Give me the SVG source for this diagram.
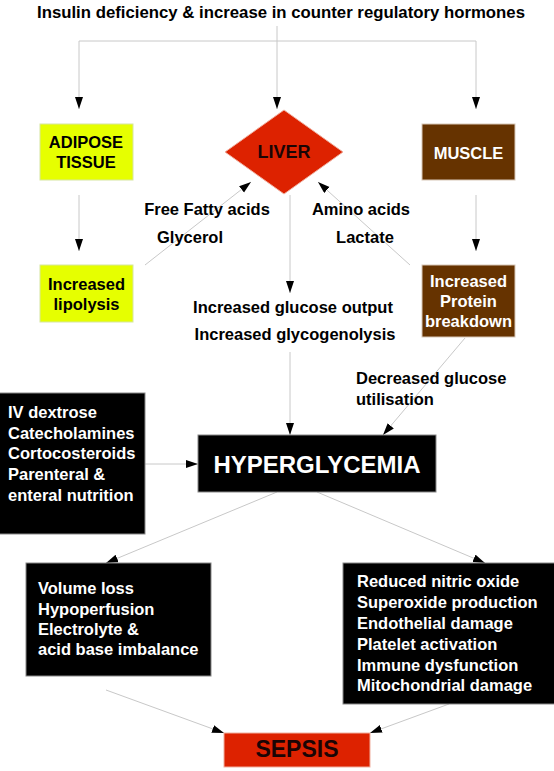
<svg xmlns="http://www.w3.org/2000/svg" width="554" height="771" viewBox="0 0 554 771">
<defs>
<marker id="ah" markerUnits="userSpaceOnUse" markerWidth="13" markerHeight="9" refX="12" refY="4" orient="auto">
<path d="M0,0 L12,4 L0,8 z" fill="#000"/>
</marker>
<style>
text{font-family:"Liberation Sans",Arial,sans-serif;font-weight:bold;font-size:16.5px;fill:#000}
.c{text-anchor:middle}
.w{fill:#fff}
.dk{fill:#1a0505}
.ln{stroke:#c8c8c8;stroke-width:1;fill:none}
.ar{stroke:#c8c8c8;stroke-width:1;fill:none;marker-end:url(#ah)}
.yel{fill:#e6ff00;stroke:#d6e6a0;stroke-width:1}
.brn{fill:#663300;stroke:#d8c8b8;stroke-width:1}
.red{fill:#dd2200;stroke:#f0b0a0;stroke-width:1}
.blk{fill:#000;stroke:#888;stroke-width:1}
</style>
</defs>
<rect width="554" height="771" fill="#fff"/>

<g id="connectors">
<line class="ln" x1="277" y1="26" x2="277" y2="41"/>
<line class="ln" x1="79" y1="41" x2="476" y2="41"/>
<line class="ar" x1="277" y1="41" x2="277" y2="109"/>
<line class="ar" x1="79" y1="41" x2="79" y2="109"/>
<line class="ar" x1="476" y1="41" x2="476" y2="109"/>
<line class="ar" x1="79" y1="195" x2="79" y2="251"/>
<line class="ar" x1="476" y1="195" x2="476" y2="251"/>
<line class="ar" x1="145" y1="265" x2="251" y2="182"/>
<line class="ar" x1="410" y1="265" x2="318" y2="182"/>
<line class="ar" x1="290" y1="195" x2="290" y2="293"/>
<line class="ar" x1="290" y1="352" x2="290" y2="435"/>
<line class="ar" x1="465" y1="338" x2="383" y2="435"/>
<line class="ar" x1="145" y1="464" x2="198" y2="464"/>
<line class="ar" x1="277" y1="492" x2="106" y2="563"/>
<line class="ar" x1="317" y1="492" x2="485" y2="563"/>
<line class="ar" x1="106" y1="690" x2="224" y2="733"/>
<line class="ar" x1="449" y1="704" x2="370" y2="733"/>
</g>

<g id="title">
<text x="281" y="18" class="c" style="font-size:17px" textLength="488" lengthAdjust="spacingAndGlyphs">Insulin deficiency &amp; increase in counter regulatory hormones</text>
</g>

<g id="adipose">
<rect class="yel" x="40" y="124" width="93" height="56"/>
<text x="86" y="148" class="c">ADIPOSE</text>
<text x="86" y="168" class="c">TISSUE</text>
</g>

<g id="liver">
<polygon class="red" points="284,110 343,152 284,194 225,152"/>
<text x="284" y="158" class="c dk" style="font-size:18px">LIVER</text>
</g>

<g id="muscle">
<rect class="brn" x="422" y="124" width="93" height="56"/>
<text x="468.5" y="159" class="c w">MUSCLE</text>
</g>

<g id="lipolysis">
<rect class="yel" x="40" y="265" width="93" height="57"/>
<text x="86.5" y="290" class="c">Increased</text>
<text x="86.5" y="310" class="c">lipolysis</text>
</g>

<g id="protein">
<rect class="brn" x="422" y="265" width="93" height="72"/>
<text x="468.5" y="287" class="c w">Increased</text>
<text x="468.5" y="307" class="c w">Protein</text>
<text x="468.5" y="327" class="c w">breakdown</text>
</g>

<g id="label-ffa">
<text x="207" y="215" class="c">Free Fatty acids</text>
<text x="190" y="243" class="c">Glycerol</text>
</g>

<g id="label-amino">
<text x="361" y="215" class="c">Amino acids</text>
<text x="365" y="243" class="c">Lactate</text>
</g>

<g id="label-glucose">
<text x="293" y="313" class="c">Increased glucose output</text>
<text x="295" y="340" class="c">Increased glycogenolysis</text>
</g>

<g id="label-utilisation">
<text x="356" y="384">Decreased glucose</text>
<text x="356" y="405">utilisation</text>
</g>

<g id="iv">
<rect class="blk" x="-1" y="393" width="146" height="141"/>
<text x="8" y="418" class="w">IV dextrose</text>
<text x="8" y="439" class="w">Catecholamines</text>
<text x="8" y="459" class="w">Cortocosteroids</text>
<text x="8" y="480" class="w">Parenteral &amp;</text>
<text x="8" y="501" class="w">enteral nutrition</text>
</g>

<g id="hyperglycemia">
<rect class="blk" x="198" y="435" width="238" height="57"/>
<text x="317" y="473" class="c w" style="font-size:24px">HYPERGLYCEMIA</text>
</g>

<g id="volume">
<rect class="blk" x="26" y="563" width="185" height="113"/>
<text x="38" y="594" class="w">Volume loss</text>
<text x="38" y="615" class="w">Hypoperfusion</text>
<text x="38" y="635" class="w">Electrolyte &amp;</text>
<text x="38" y="655" class="w">acid base imbalance</text>
</g>

<g id="effects">
<rect class="blk" x="343" y="563" width="212" height="141"/>
<text x="357" y="587" class="w">Reduced nitric oxide</text>
<text x="357" y="608" class="w">Superoxide production</text>
<text x="357" y="629" class="w">Endothelial damage</text>
<text x="357" y="650" class="w">Platelet activation</text>
<text x="357" y="671" class="w">Immune dysfunction</text>
<text x="357" y="691" class="w">Mitochondrial damage</text>
</g>

<g id="sepsis">
<rect class="red" x="224" y="733" width="146" height="34"/>
<text x="297" y="757" class="c dk" style="font-size:23px">SEPSIS</text>
</g>
</svg>
